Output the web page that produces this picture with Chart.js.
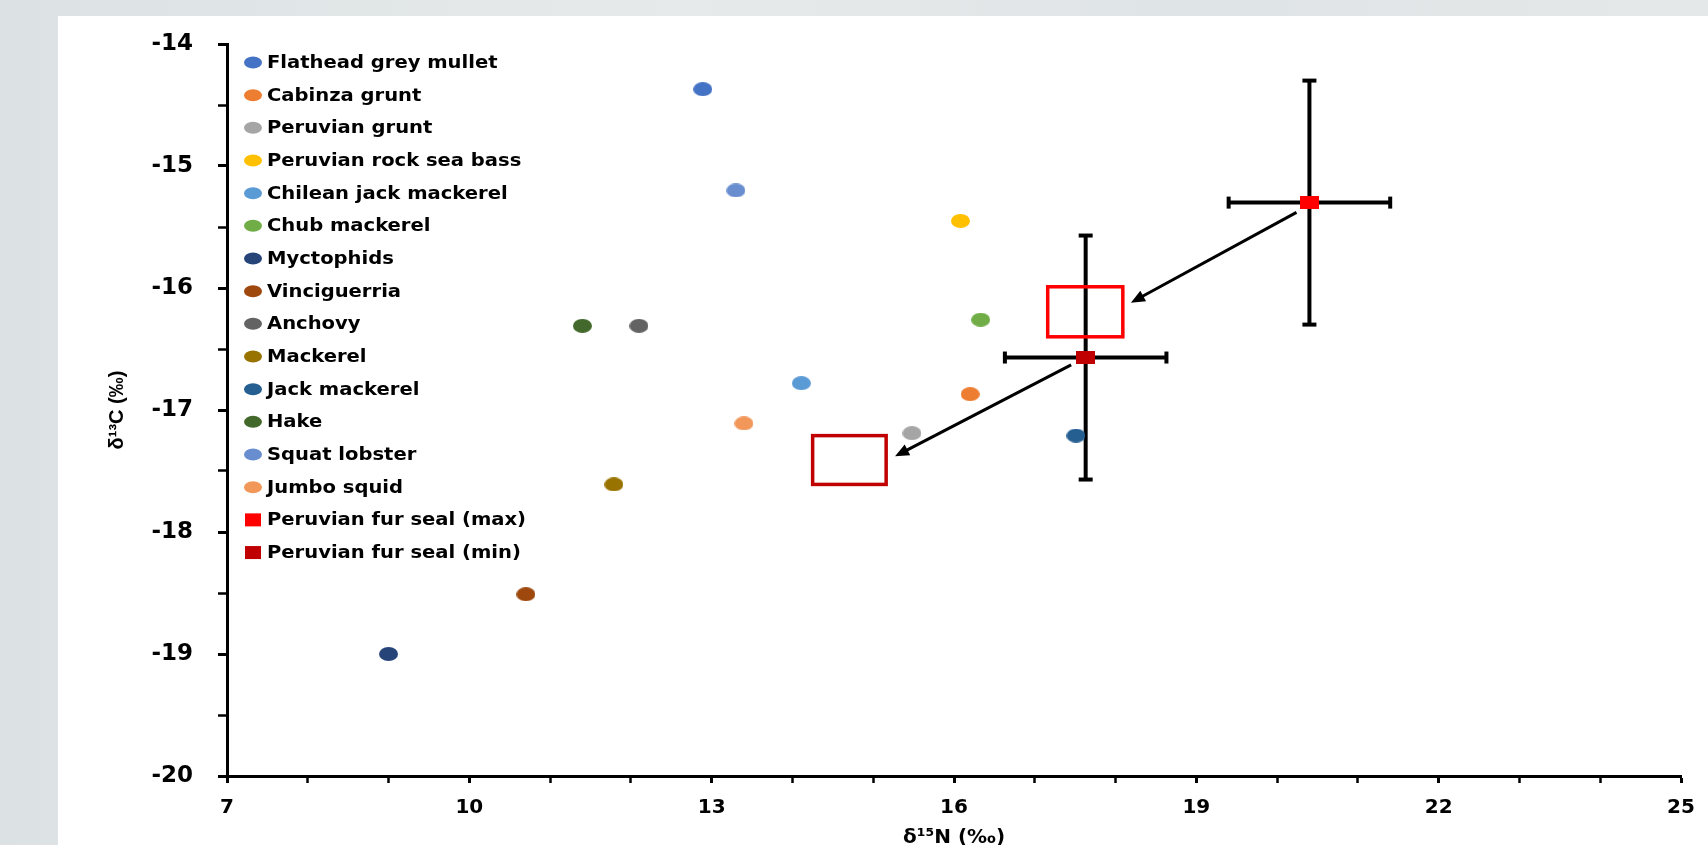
<!DOCTYPE html>
<html>
<head>
<meta charset="utf-8">
<title>Isotope biplot</title>
<script src="https://cdn.jsdelivr.net/npm/chart.js@4.4.0/dist/chart.umd.min.js"></script>
<style>
  html, body { margin: 0; padding: 0; }
  body { width: 1708px; height: 845px; overflow: hidden; position: relative;
         background: linear-gradient(90deg, #dce2e4 0%, #e6eaeb 40%, #dfe4e6 70%, #e4e8e9 100%); }
  #paper { position: absolute; left: 58px; top: 16px; right: 0; bottom: 0; background: #fff; }
  #wrap { position: absolute; left: 0; top: 0; width: 1708px; height: 845px; }
</style>
</head>
<body>
<div id="paper"></div>
<div id="wrap"><canvas id="isoChart"></canvas></div>
<script>
// prey species
const species = ['Flathead grey mullet', 'Cabinza grunt', 'Peruvian grunt', 'Peruvian rock sea bass',
  'Chilean jack mackerel', 'Chub mackerel', 'Myctophids', 'Vinciguerria', 'Anchovy', 'Mackerel',
  'Jack mackerel', 'Hake', 'Squat lobster', 'Jumbo squid']
const d15N = [12.89, 16.20, 15.48, 16.08, 14.11, 16.33, 9.00, 10.70, 12.10, 11.79, 17.51, 11.40, 13.30, 13.40]
const d13C = [-14.37, -16.87, -17.19, -15.45, -16.78, -16.26, -19.00, -18.51, -16.31, -17.61, -17.21, -16.31, -15.20, -17.11]
const speciesColors = ['#4472C4', '#ED7D31', '#A5A5A5', '#FFC000', '#5B9BD5', '#70AD47', '#264478',
  '#9E480E', '#636363', '#997300', '#255E91', '#43682B', '#698ED0', '#F1975A']

// fur seal means with SD
const sealLabels = ['Peruvian fur seal (max)', 'Peruvian fur seal (min)']
const sealN = [20.40, 17.63]
const sealC = [-15.30, -16.57]
const sealNErr = [1.0, 1.0]
const sealCErr = [1.0, 1.0]
const sealColors = ['#FF0000', '#C00000']

// open boxes (diet estimate) and arrows, in axis units
const dietBoxN = [[17.16, 18.09], [14.25, 15.16]]
const dietBoxC = [[-15.99, -16.40], [-17.21, -17.61]]
const arrowFrom = [[20.24, -15.38], [17.45, -16.63]]
const arrowTo = [[18.19, -16.12], [15.27, -17.38]]

const nTickLabels = [7, 10, 13, 16, 19, 22, 25]
const cTickLabels = [-20, -19, -18, -17, -16, -15, -14]

function markerImg(color, w, h, square) {
    const c = document.createElement('canvas')
    c.width = w
    c.height = h
    const g = c.getContext('2d')
    g.fillStyle = color
    if (square) {
        g.fillRect(0, 0, w, h)
    } else {
        g.beginPath()
        g.ellipse(w / 2, h / 2, w / 2, h / 2, 0, 0, Math.PI * 2)
        g.fill()
    }
    return c
}

const datasets = []
for (let i = 0; i < species.length; i++) {
    datasets.push({
        label: species[i],
        data: [{x: d15N[i], y: d13C[i]}],
        backgroundColor: speciesColors[i],
        pointStyle: markerImg(speciesColors[i], 19, 14, false),
        pointRadius: 8,
        pointHoverRadius: 8
    })
}
for (let i = 0; i < sealLabels.length; i++) {
    datasets.push({
        label: sealLabels[i],
        data: [{x: sealN[i], y: sealC[i]}],
        backgroundColor: sealColors[i],
        pointStyle: markerImg(sealColors[i], 19, 13, true),
        pointRadius: 8,
        pointHoverRadius: 8
    })
}

function line(ctx, x1, y1, x2, y2) {
    ctx.beginPath()
    ctx.moveTo(x1, y1)
    ctx.lineTo(x2, y2)
    ctx.stroke()
}

const extras = {
    id: 'extras',
    beforeDatasetsDraw(chart) {
        const {ctx, scales: {x, y}} = chart
        ctx.save()
        // error bars
        ctx.strokeStyle = '#000'
        ctx.lineWidth = 4
        for (let i = 0; i < sealN.length; i++) {
            const px = x.getPixelForValue(sealN[i])
            const py = y.getPixelForValue(sealC[i])
            const xl = x.getPixelForValue(sealN[i] - sealNErr[i])
            const xr = x.getPixelForValue(sealN[i] + sealNErr[i])
            const yt = y.getPixelForValue(sealC[i] + sealCErr[i])
            const yb = y.getPixelForValue(sealC[i] - sealCErr[i])
            line(ctx, xl, py, xr, py)
            line(ctx, xl, py - 6, xl, py + 6)
            line(ctx, xr, py - 6, xr, py + 6)
            line(ctx, px, yt, px, yb)
            line(ctx, px - 7, yt, px + 7, yt)
            line(ctx, px - 7, yb, px + 7, yb)
        }
        // open boxes
        ctx.lineWidth = 3.5
        for (let i = 0; i < dietBoxN.length; i++) {
            const x1 = x.getPixelForValue(dietBoxN[i][0])
            const x2 = x.getPixelForValue(dietBoxN[i][1])
            const y1 = y.getPixelForValue(dietBoxC[i][0])
            const y2 = y.getPixelForValue(dietBoxC[i][1])
            ctx.strokeStyle = sealColors[i]
            ctx.strokeRect(x1, y1, x2 - x1, y2 - y1)
        }
        ctx.restore()
    },
    afterDatasetsDraw(chart) {
        const {ctx, scales: {x, y}} = chart
        ctx.save()
        ctx.strokeStyle = '#000'
        ctx.fillStyle = '#000'
        ctx.lineWidth = 3
        for (let i = 0; i < arrowFrom.length; i++) {
            const x1 = x.getPixelForValue(arrowFrom[i][0]), y1 = y.getPixelForValue(arrowFrom[i][1])
            const x2 = x.getPixelForValue(arrowTo[i][0]), y2 = y.getPixelForValue(arrowTo[i][1])
            const a = Math.atan2(y2 - y1, x2 - x1)
            const head = 14
            line(ctx, x1, y1, x2 - Math.cos(a) * head * 0.8, y2 - Math.sin(a) * head * 0.8)
            ctx.beginPath()
            ctx.moveTo(x2, y2)
            ctx.lineTo(x2 - head * Math.cos(a) + 6 * Math.sin(a), y2 - head * Math.sin(a) - 6 * Math.cos(a))
            ctx.lineTo(x2 - head * Math.cos(a) - 6 * Math.sin(a), y2 - head * Math.sin(a) + 6 * Math.cos(a))
            ctx.closePath()
            ctx.fill()
        }
        ctx.restore()
    },
    afterDraw(chart) {
        // legend inside the plot, top left
        const {ctx, chartArea} = chart
        const left = chartArea.left + 26
        const top = chartArea.top + 18.5
        const step = 32.67
        ctx.save()
        ctx.font = 'bold 17px "DejaVu Sans"'
        ctx.textBaseline = 'middle'
        chart.data.datasets.forEach((ds, i) => {
            const cy = top + i * step
            ctx.fillStyle = ds.backgroundColor
            if (i < species.length) {
                ctx.beginPath()
                ctx.ellipse(left, cy, 9, 6, 0, 0, Math.PI * 2)
                ctx.fill()
            } else {
                ctx.fillRect(left - 8, cy - 6.5, 16, 13)
            }
            ctx.save()
            ctx.translate(left + 14, cy)
            ctx.scale(1.15, 1)
            ctx.fillStyle = '#000'
            ctx.fillText(ds.label, 0, 1)
            ctx.restore()
        })
        ctx.restore()
    }
}

const isoChart = new Chart(document.getElementById('isoChart').getContext('2d'), {
    type: 'scatter',
    data: {datasets: datasets},
    plugins: [extras],
    options: {
        responsive: true,
        maintainAspectRatio: false,
        animation: false,
        layout: {padding: {left: 0, top: 44, right: 27, bottom: 0}},
        plugins: {
            legend: {display: false},
            tooltip: {enabled: true}
        },
        scales: {
            x: {
                type: 'linear',
                min: 7,
                max: 25,
                afterFit: (scale) => { scale.height = 69 },
                border: {display: true, color: '#000', width: 3},
                grid: {
                    drawOnChartArea: false,
                    drawTicks: true,
                    tickLength: 7,
                    tickColor: '#000',
                    tickWidth: (c) => nTickLabels.includes(c.tick.value) ? 3 : 2.5
                },
                ticks: {
                    stepSize: 1,
                    autoSkip: false,
                    maxRotation: 0,
                    padding: 13,
                    color: '#000',
                    font: {family: 'DejaVu Sans', weight: 'bold', size: 20},
                    callback: (v) => nTickLabels.includes(v) ? String(v) : ''
                },
                title: {
                    display: true,
                    text: 'δ¹⁵N (‰)',
                    color: '#000',
                    font: {family: 'DejaVu Sans', weight: 'bold', size: 20},
                    padding: {top: 0, bottom: -5}
                }
            },
            y: {
                type: 'linear',
                min: -20,
                max: -14,
                afterFit: (scale) => { scale.width = 227 },
                border: {display: true, color: '#000', width: 3},
                grid: {
                    drawOnChartArea: false,
                    drawTicks: true,
                    tickLength: 9,
                    tickColor: '#000',
                    tickWidth: (c) => cTickLabels.includes(c.tick.value) ? 3 : 2.5
                },
                ticks: {
                    stepSize: 0.5,
                    autoSkip: false,
                    padding: 25,
                    color: '#000',
                    font: {family: 'DejaVu Sans', weight: 'bold', size: 23},
                    callback: (v) => cTickLabels.includes(v) ? String(v) : ''
                },
                title: {
                    display: true,
                    text: 'δ¹³C (‰)',
                    color: '#000',
                    font: {family: 'Liberation Sans', weight: 'bold', size: 20},
                    padding: {top: 105, bottom: 0}
                }
            }
        }
    }
})
</script>
</body>
</html>
